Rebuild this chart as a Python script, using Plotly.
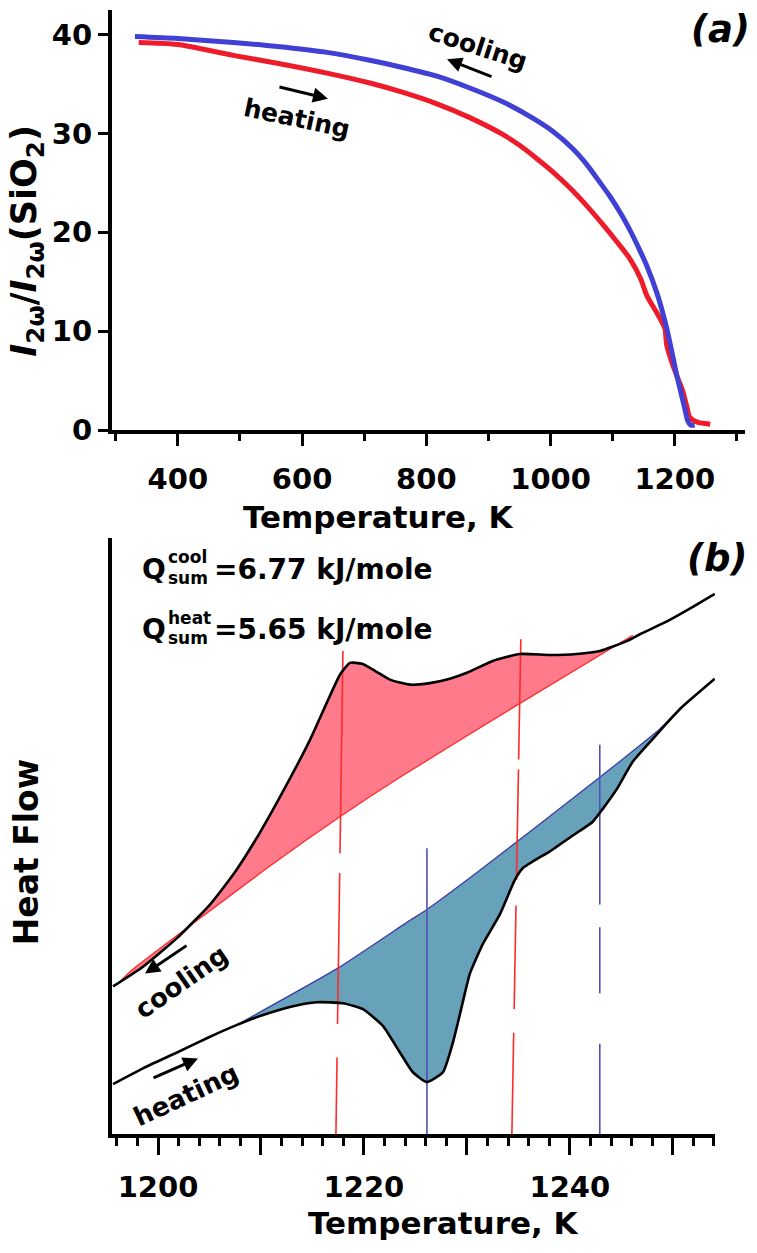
import plotly.graph_objects as go

W, H = 757, 1253

# ---------------- panel (a): SHG intensity vs temperature ----------------
cool_a_T = [331, 400, 489, 560, 640, 709, 760, 817, 870, 923, 970, 1004, 1035, 1059, 1080,
            1096, 1113, 1128, 1142, 1155, 1171, 1187, 1203, 1216, 1221, 1226, 1232]
cool_a_I = [39.8, 39.6, 39.2, 38.8, 38.2, 37.4, 36.7, 35.8, 34.6, 33.2, 31.6, 30.2, 28.5, 26.8, 25.0,
            23.6, 21.9, 20.2, 18.4, 16.6, 13.9, 10.3, 5.6, 2.2, 0.9, 0.5, 0.5]
heat_a_T = [337, 400, 489, 560, 640, 709, 760, 817, 870, 923, 950, 977, 1004, 1031, 1058, 1084,
            1106, 1128, 1145, 1155, 1166, 1176, 1184, 1187, 1195, 1205, 1213, 1220, 1224, 1236, 1257]
heat_a_I = [39.2, 39.0, 37.9, 37.1, 36.1, 35.1, 34.2, 33.0, 31.6, 29.9, 28.8, 27.5, 26.1, 24.5, 22.7, 20.8,
            19.1, 17.3, 15.3, 13.6, 12.4, 11.3, 10.3, 8.6, 6.9, 5.2, 3.9, 2.2, 1.3, 0.8, 0.6]
a_xticks = [400, 600, 800, 1000, 1200]
a_yticks = [0, 10, 20, 30, 40]

# ---------------- panel (b): DSC heat flow (arbitrary units) ----------------
cool_b_T = [1195.63, 1198.54, 1201.84, 1205.05, 1207.48, 1209.90, 1212.52, 1214.76, 1216.41, 1217.67,
            1218.64, 1219.81, 1221.07, 1222.52, 1224.47, 1226.12, 1228.35, 1230.00, 1232.52, 1235.15,
            1238.06, 1240.68, 1242.91, 1245.53, 1246.80, 1249.42, 1251.65, 1254.08]
cool_b_Q = [15.0, 17.0, 19.9, 23.3, 26.6, 30.6, 35.5, 40.0, 43.8, 46.6,
            47.8, 47.7, 47.0, 46.1, 45.6, 45.7, 46.2, 46.8, 48.0, 48.7,
            48.6, 48.7, 49.0, 50.0, 50.7, 52.0, 53.3, 54.8]
cool_base_T = [1196.12, 1197.28, 1210.87, 1217.67, 1223.50, 1235.15, 1246.12]
cool_base_Q = [15.3, 16.5, 27.2, 32.2, 36.2, 43.7, 50.6]

heat_b_T = [1195.63, 1198.54, 1201.84, 1205.05, 1207.67, 1209.90, 1213.11, 1215.44, 1217.96, 1219.90,
            1221.84, 1223.50, 1224.76, 1226.12, 1227.67, 1228.64, 1229.51, 1230.29, 1231.55, 1233.20,
            1234.66, 1235.44, 1238.06, 1240.29, 1242.23, 1243.20, 1244.56, 1246.12, 1248.06, 1249.42,
            1250.97, 1254.08]
heat_b_Q = [5.1, 6.7, 8.3, 9.9, 11.1, 12.0, 13.0, 13.4, 13.3, 12.7,
            11.0, 8.3, 6.3, 5.3, 6.3, 9.3, 13.0, 16.3, 19.3, 22.3,
            25.8, 27.0, 28.7, 30.3, 31.7, 33.0, 35.0, 37.8, 40.1, 41.7,
            43.4, 46.2]
heat_base_T = [1207.67, 1217.38, 1224.47, 1226.12, 1231.55, 1242.91, 1248.74, 1250.97]
heat_base_Q = [11.1, 16.8, 21.7, 22.8, 27.0, 36.2, 41.1, 43.4]

# vertical markers: (T at top, T at bottom, visible segments as (Q_top, Q_bottom))
red_marks = [
    (1217.96, 1217.28, [(49.0, 28.5), (26.5, 11.2), (7.8, 0.0)]),
    (1235.24, 1234.37, [(50.2, 38.0), (37.0, 25.8), (23.2, 12.7), (10.3, 0.0)]),
]
blue_marks = [
    (1226.12, 1226.12, [(29.0, 0.0)]),
    (1242.91, 1242.91, [(39.5, 23.3), (21.0, 14.3), (9.2, 0.0)]),
]
b_major = [1200, 1210, 1220, 1230, 1240, 1250]
b_labels = ['1200', '', '1220', '', '1240', '']

FONT = 'DejaVu Sans'
PINK = '#ff7b8c'
TEAL = '#68a2ba'


def px(x):
    return x / W


def py(y):
    return 1 - y / H


def polygon(curve_T, curve_Q, base_T, base_Q):
    t0, t1 = base_T[0], base_T[-1]
    xs = [base_T[0]] + [t for t in curve_T if t0 < t < t1] + [base_T[-1]]
    ys = [base_Q[0]] + [q for t, q in zip(curve_T, curve_Q) if t0 < t < t1] + [base_Q[-1]]
    xs += base_T[::-1]
    ys += base_Q[::-1]
    return xs, ys


fig = go.Figure()

# panel (a) curves
fig.add_trace(go.Scatter(x=heat_a_T, y=heat_a_I, mode='lines',
                         line=dict(color='#ee1c2a', width=5, shape='spline', smoothing=0.7),
                         xaxis='x', yaxis='y', hoverinfo='skip'))
fig.add_trace(go.Scatter(x=cool_a_T, y=cool_a_I, mode='lines',
                         line=dict(color='#4040d4', width=5, shape='spline', smoothing=0.7),
                         xaxis='x', yaxis='y', hoverinfo='skip'))

# panel (b) filled areas
xs, ys = polygon(cool_b_T, cool_b_Q, cool_base_T, cool_base_Q)
fig.add_trace(go.Scatter(x=xs, y=ys, fill='toself', fillcolor=PINK, mode='none',
                         line=dict(shape='spline', smoothing=0.5),
                         xaxis='x2', yaxis='y2', hoverinfo='skip'))
xs, ys = polygon(heat_b_T, heat_b_Q, heat_base_T, heat_base_Q)
fig.add_trace(go.Scatter(x=xs, y=ys, fill='toself', fillcolor=TEAL, mode='none',
                         line=dict(shape='spline', smoothing=0.5),
                         xaxis='x2', yaxis='y2', hoverinfo='skip'))

# baselines
fig.add_trace(go.Scatter(x=cool_base_T, y=cool_base_Q, mode='lines',
                         line=dict(color='#ff2a2a', width=1.3, shape='spline', smoothing=0.5),
                         xaxis='x2', yaxis='y2', hoverinfo='skip'))
fig.add_trace(go.Scatter(x=heat_base_T, y=heat_base_Q, mode='lines',
                         line=dict(color='#3c3ca8', width=1.3, shape='spline', smoothing=0.5),
                         xaxis='x2', yaxis='y2', hoverinfo='skip'))


def marker_trace(marks, color):
    xs, ys = [], []
    for t_top, t_bot, segs in marks:
        q_top = segs[0][0]
        for qa, qb in segs:
            for q in (qa, qb):
                frac = (q_top - q) / q_top
                xs.append(t_top + (t_bot - t_top) * frac)
                ys.append(q)
            xs.append(None)
            ys.append(None)
    return go.Scatter(x=xs, y=ys, mode='lines', line=dict(color=color, width=1.6),
                      xaxis='x2', yaxis='y2', hoverinfo='skip', connectgaps=False)


fig.add_trace(marker_trace(red_marks, '#ff2a2a'))
fig.add_trace(marker_trace(blue_marks, '#5050b4'))

# black DSC curves
fig.add_trace(go.Scatter(x=cool_b_T, y=cool_b_Q, mode='lines',
                         line=dict(color='black', width=2.6, shape='spline', smoothing=0.5),
                         xaxis='x2', yaxis='y2', hoverinfo='skip'))
fig.add_trace(go.Scatter(x=heat_b_T, y=heat_b_Q, mode='lines',
                         line=dict(color='black', width=2.6, shape='spline', smoothing=0.5),
                         xaxis='x2', yaxis='y2', hoverinfo='skip'))

tickfont = dict(family=FONT, size=29, color='black', weight='bold')

fig.update_layout(
    width=W, height=H,
    margin=dict(l=0, r=0, t=0, b=0),
    paper_bgcolor='white', plot_bgcolor='white',
    showlegend=False,
    xaxis=dict(domain=[px(112), px(745)], range=[294, 1313], anchor='y',
               tickmode='array', tickvals=a_xticks, ticks='outside', ticklen=12, tickwidth=3,
               tickcolor='black', showline=True, linewidth=4, linecolor='black',
               minor=dict(tick0=300, dtick=100, ticks='outside',
                          ticklen=7, tickwidth=3, tickcolor='black', showgrid=False),
               showgrid=False, zeroline=False, tickfont=tickfont, ticklabelstandoff=8),
    yaxis=dict(domain=[py(436), py(10)], range=[0, 42.5], anchor='x',
               tickmode='array', tickvals=a_yticks, ticks='outside', ticklen=10, tickwidth=3,
               tickcolor='black', showline=True, linewidth=4, linecolor='black',
               showgrid=False, zeroline=False, tickfont=tickfont),
    xaxis2=dict(domain=[px(112), px(715)], range=[1195.53, 1254.1], anchor='y2',
                tickmode='array', tickvals=b_major, ticktext=b_labels, ticks='outside', ticklen=17,
                tickwidth=3, tickcolor='black', showline=True, linewidth=4, linecolor='black',
                minor=dict(dtick=2, tick0=1196, ticks='outside', ticklen=8, tickwidth=3,
                           tickcolor='black', showgrid=False),
                showgrid=False, zeroline=False, tickfont=tickfont, ticklabelstandoff=7),
    yaxis2=dict(domain=[py(1150), py(545)], range=[0, 60.5], anchor='x2',
                showticklabels=False, ticks='', showline=True, linewidth=4, linecolor='black',
                showgrid=False, zeroline=False),
)

anns = []


def text(t, x, y, size, angle=0, italic=False, xanchor='center', yanchor='middle'):
    anns.append(dict(text=t, x=px(x), y=py(y), xref='paper', yref='paper', showarrow=False,
                     textangle=angle, xanchor=xanchor, yanchor=yanchor,
                     font=dict(family=FONT, size=size, color='black', weight='bold',
                               style='italic' if italic else 'normal')))


def arrow(x_head, y_head, x_tail, y_tail):
    anns.append(dict(text='', x=px(x_head), y=py(y_head), xref='paper', yref='paper',
                     ax=x_tail - x_head, ay=y_tail - y_head, axref='pixel', ayref='pixel',
                     showarrow=True, arrowhead=2, arrowsize=1, arrowwidth=3, arrowcolor='black'))


# panel (a) texts
text('(a)', 720, 30, 37, italic=True)
text('cooling', 478, 47, 25, angle=18)
arrow(447, 60, 493, 78)
text('heating', 297, 120, 25, angle=12)
arrow(328, 100, 278, 88)
text('<i>I</i><sub>2ω</sub>/<i>I</i><sub>2ω</sub>(SiO<sub>2</sub>)', 27, 244, 35, angle=-90)
text('Temperature, K', 378, 524, 31)

# panel (b) texts
text('(b)', 717, 566, 37, italic=True)
text('Q', 140, 577, 28, xanchor='left')
text('cool', 166, 565, 17, xanchor='left')
text('sum', 166, 586, 17, xanchor='left')
text('=6.77 kJ/mole', 212, 577, 28, xanchor='left')
text('Q', 140, 638, 28, xanchor='left')
text('heat', 166, 626, 17, xanchor='left')
text('sum', 166, 647, 17, xanchor='left')
text('=5.65 kJ/mole', 212, 638, 28, xanchor='left')

text('cooling', 181, 995, 26, angle=-35)
arrow(145, 987, 188, 958)
text('heating', 186, 1110, 26, angle=-25)
arrow(198, 1073, 152, 1093)
text('Heat Flow', 26, 864, 33, angle=-90)
text('Temperature, K', 443, 1240, 31)

fig.update_layout(annotations=anns)
fig.write_html('out.html')
